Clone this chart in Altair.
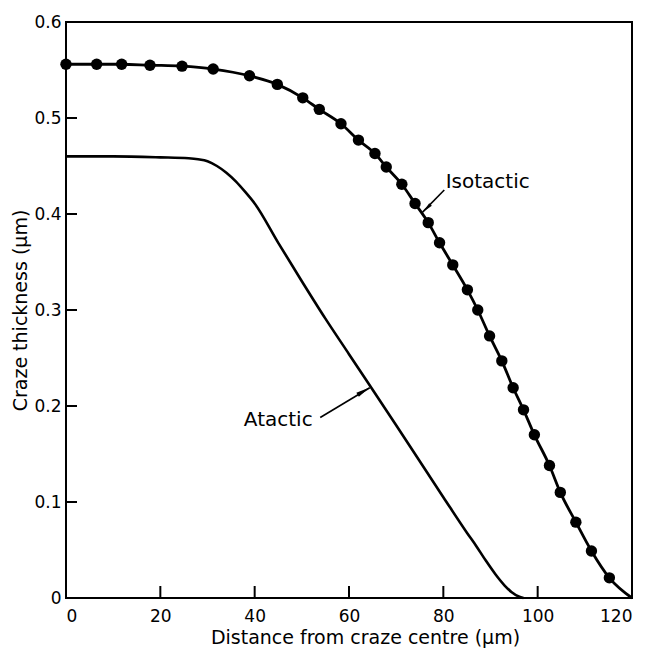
import altair as alt
import pandas as pd

# Isotactic (measured points)
iso_x = [0, 6.5, 11.8, 17.8, 24.6, 31.2, 38.9, 44.8, 50.2, 53.7, 58.3, 62.0, 65.5, 67.9,
         71.2, 74.0, 76.8, 79.2, 82.0, 85.1, 87.3, 89.8, 92.4, 94.8, 97.0, 99.3, 102.5,
         104.8, 108.1, 111.4, 115.2]
iso_y = [0.556, 0.556, 0.556, 0.555, 0.554, 0.551, 0.544, 0.535, 0.521, 0.509, 0.494,
         0.477, 0.463, 0.449, 0.431, 0.411, 0.391, 0.370, 0.347, 0.321, 0.300, 0.273,
         0.247, 0.219, 0.196, 0.170, 0.138, 0.110, 0.079, 0.049, 0.021]
iso_end_x = [120]
iso_end_y = [0.0]

# Atactic curve
ata_x = [0, 10, 20, 26, 28, 30, 32, 34, 36, 38, 40, 45, 50, 55, 60, 70, 80, 85, 87,
         89, 91, 93, 94.5, 96, 97]
ata_y = [0.460, 0.460, 0.459, 0.458, 0.457, 0.455, 0.450, 0.443, 0.434, 0.423, 0.411,
         0.370, 0.330, 0.291, 0.254, 0.180, 0.105, 0.068, 0.054, 0.039, 0.025, 0.013,
         0.006, 0.0015, 0.0]

x_ticks = [0, 20, 40, 60, 80, 100, 120]
y_ticks = [0, 0.1, 0.2, 0.3, 0.4, 0.5, 0.6]
x_inner_ticks = [20, 40, 60, 80, 100]
y_inner_ticks = [0.1, 0.2, 0.3, 0.4, 0.5]

labels = ["Isotactic", "Atactic"]
label_x = [80.5, 37.7]
label_y = [0.433, 0.185]

arrow_x = [80.2, 53.9]
arrow_y = [0.425, 0.188]
arrow_x2 = [75.6, 64.4]
arrow_y2 = [0.402, 0.219]
head_x = [76.5, 63.1]
head_y = [0.406, 0.2155]
head_angle = [225, 59]
head_size = [110, 196]

FONT = "DejaVu Sans"
W, H = 566, 576

iso_df = pd.DataFrame({"x": iso_x, "y": iso_y})
iso_line_df = pd.DataFrame({"x": iso_x + iso_end_x, "y": iso_y + iso_end_y})
ata_df = pd.DataFrame({"x": ata_x, "y": ata_y})
lab_df = pd.DataFrame({"x": label_x, "y": label_y, "t": labels})
arr_df = pd.DataFrame({"x": arrow_x, "y": arrow_y, "x2": arrow_x2, "y2": arrow_y2})
head_df = pd.DataFrame({"x": head_x, "y": head_y, "a": head_angle, "s": head_size})
xt_df = pd.DataFrame({"x": x_inner_ticks})
yt_df = pd.DataFrame({"y": y_inner_ticks})

xs = alt.Scale(domain=[0, 120], nice=False, zero=False)
ys = alt.Scale(domain=[0, 0.6], nice=False, zero=False)

x_axis = alt.Axis(values=x_ticks, ticks=False, domain=False, grid=False,
                  labelFontSize=17, labelFont=FONT, labelColor="black", labelPadding=10,
                  title="Distance from craze centre (µm)", titleFont=FONT,
                  titleFontSize=19, titleFontWeight="normal", titleColor="black",
                  titleX=299, titleY=45, titleBaseline="alphabetic", titleAnchor="middle")
y_axis = alt.Axis(values=y_ticks, ticks=False, domain=False, grid=False,
                  labelFontSize=17, labelFont=FONT, labelColor="black", labelPadding=5,
                  labelExpr="datum.value == 0 ? '0' : format(datum.value, '.1f')",
                  title="Craze thickness (µm)", titleFont=FONT, titleFontSize=19,
                  titleFontWeight="normal", titleColor="black", titleAngle=270,
                  titleX=-40, titleY=H / 2, titleBaseline="alphabetic", titleAlign="center")

base_x = alt.X("x:Q", scale=xs, axis=x_axis)
base_y = alt.Y("y:Q", scale=ys, axis=y_axis)

iso_line = alt.Chart(iso_line_df).mark_line(
    color="black", strokeWidth=2.8, interpolate="monotone"
).encode(x=base_x, y=base_y)

iso_pts = alt.Chart(iso_df).mark_point(
    filled=True, color="black", size=130, opacity=1, shape="circle"
).encode(x="x:Q", y="y:Q")

ata_line = alt.Chart(ata_df).mark_line(
    color="black", strokeWidth=2.6, interpolate="monotone"
).encode(x="x:Q", y="y:Q")

arrows = alt.Chart(arr_df).mark_rule(color="black", strokeWidth=1.6).encode(
    x="x:Q", y="y:Q", x2="x2:Q", y2="y2:Q")

heads = alt.Chart(head_df).mark_point(
    filled=True, color="black", opacity=1, shape="M0,-1L0.35,1L-0.35,1Z"
).encode(x="x:Q", y="y:Q", angle=alt.Angle("a:Q", scale=None),
         size=alt.Size("s:Q", scale=None, legend=None))

texts = alt.Chart(lab_df).mark_text(
    align="left", baseline="middle", font=FONT, fontSize=20, color="black"
).encode(x="x:Q", y="y:Q", text="t:N")

xt = alt.Chart(xt_df).mark_rule(color="black", strokeWidth=2).encode(
    x="x:Q", y=alt.value(H), y2=alt.value(H - 12))
yt = alt.Chart(yt_df).mark_rule(color="black", strokeWidth=2).encode(
    y="y:Q", x=alt.value(0), x2=alt.value(11))

chart = alt.layer(iso_line, ata_line, iso_pts, arrows, heads, texts, xt, yt).properties(
    width=W, height=H,
    autosize=alt.AutoSizeParams(type="none"),
    padding={"left": 58, "top": 14, "right": 17, "bottom": 50},
    background="white",
).configure_view(stroke="black", strokeWidth=2)

chart.save("out.html", embed_options={"renderer": "svg", "actions": False})
